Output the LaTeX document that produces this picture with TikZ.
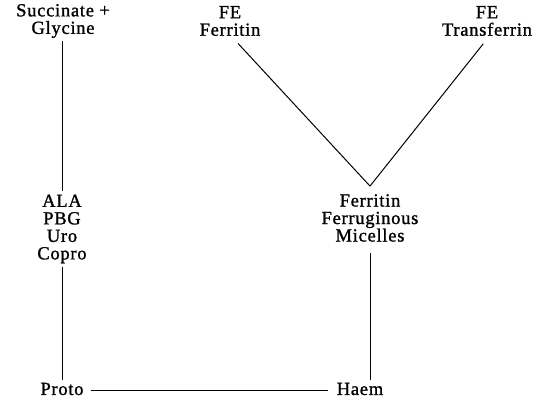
\documentclass[tikz,border=0pt]{standalone}
\usepackage{fontspec}
\setmainfont{Liberation Serif}[LetterSpace = 4, FakeBold = 1.2]
\usepackage{tikz}
\usetikzlibrary{positioning}
\tikzstyle{chem} = [
    align = center,
    font = \fontsize{18.5}{17.5}\selectfont,
    inner sep = 3pt
]
\tikzstyle{pathway} = [
    draw,
    line width = 1pt
]

\begin{document}
\begin{tikzpicture}[x = 1pt, y = -1pt]
    \useasboundingbox (0, 0) rectangle (542, 398);
    \node[chem] (succ) at (63, 21) {Succinate +\\Glycine};
    \node[chem] (feferr) at (230, 21) {FE\\Ferritin};
    \node[chem] (fetrans) at (487, 21) {FE\\Transferrin};
    \node[chem] (ala) at (62, 229) {ALA\\PBG\\Uro\\Copro};
    \node[chem] (micel) at (370, 218) {Ferritin\\Ferruginous\\Micelles};
    \node[chem] (proto) at (62, 389) {Proto};
    \node[chem] (haem) at (360, 389) {Haem};
    \coordinate (vertex) at ([yshift = 5pt] micel.north);
    \coordinate (mbot) at (micel.south -| vertex);
    % left branch: synthesis of the ring
    \path[pathway] ([xshift = -1pt] succ.south) -- ([xshift = -1pt] succ.south |- ala.north);
    \path[pathway] (ala.south) -- (proto.north);
    % iron side
    \path[pathway, shorten < = 6pt] ([xshift = 4pt] feferr.south) -- (vertex);
    \path[pathway, shorten < = 6pt] (fetrans.south) -- (vertex);
    \path[pathway, shorten < = 8pt] (mbot) -- (mbot |- haem.north);
    \path[pathway, shorten < = 4pt, shorten > = 6pt] ([yshift = -2pt] proto.east) -- ([yshift = -2pt] haem.west);
\end{tikzpicture}
\end{document}
